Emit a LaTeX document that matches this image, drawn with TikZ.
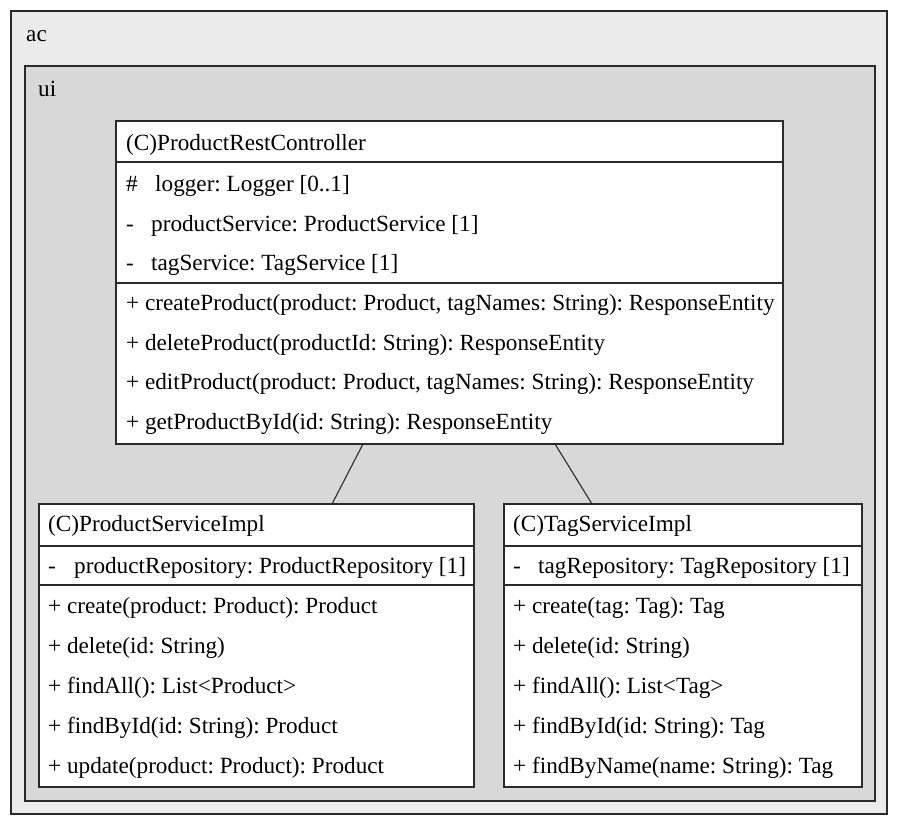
\documentclass[tikz,border=0pt]{standalone}
\usepackage{fontspec}
\setmainfont{Liberation Serif}
\usetikzlibrary{calc}
\definecolor{acfill}{HTML}{EBEBEB}
\definecolor{uifill}{HTML}{D8D8D8}
\definecolor{edge}{HTML}{2A2A2A}
\frenchspacing
\begin{document}
\begin{tikzpicture}[x=1pt,y=-1pt,
  pkg/.style={draw=edge,line width=1.3pt,inner sep=0pt,outer sep=0pt},
  cls/.style={draw=edge,fill=white,line width=1.3pt,inner sep=0pt,outer sep=0pt},
  divider/.style={draw=edge,line width=1.1pt},
  conn/.style={draw=edge,line width=1.1pt},
  txt/.style={anchor=base west,inner sep=0pt,font=\fontsize{23.2}{26}\selectfont}
]
\useasboundingbox (0,0) rectangle (899,825);
% packages
\draw[pkg,fill=acfill] (11,11) rectangle (887,814);
\node[txt] (acl) at (26,41) {ac};
\draw[pkg,fill=uifill] (25,66) rectangle (875,801);
\node[txt] (uil) at (38,96) {ui};
% ProductRestController
\node[cls,minimum width=667pt,minimum height=323pt,anchor=north west] (prc) at (116,121) {};
\draw[divider] (116,162) -- (783,162);
\draw[divider] (116,283) -- (783,283);
\node[txt] (prct) at (126,150) {(C)ProductRestController};
\node[txt] (prca1s) at (126,191) {\#};
\node[txt] (prca1) at (155,191) {logger: Logger [0..1]};
\node[txt] (prca2s) at (126,231) {-};
\node[txt] (prca2) at (151,231) {productService: ProductService [1]};
\node[txt] (prca3s) at (126,270) {-};
\node[txt] (prca3) at (151,270) {tagService: TagService [1]};
\node[txt] (prcm1) at (126,310) {+ createProduct(product: Product, tagNames: String): ResponseEntity};
\node[txt] (prcm2) at (126,350) {+ deleteProduct(productId: String): ResponseEntity};
\node[txt] (prcm3) at (126,389) {+ editProduct(product: Product, tagNames: String): ResponseEntity};
\node[txt] (prcm4) at (126,429) {+ getProductById(id: String): ResponseEntity};
% ProductServiceImpl
\node[cls,minimum width=435pt,minimum height=283pt,anchor=north west] (psi) at (39,504) {};
\draw[divider] (39,546) -- (474,546);
\draw[divider] (39,585) -- (474,585);
\node[txt] (psit) at (48,531) {(C)ProductServiceImpl};
\node[txt] (psia1s) at (48,573) {-};
\node[txt] (psia1) at (74,573) {productRepository: ProductRepository [1]};
\node[txt] (psim1) at (48,613) {+ create(product: Product): Product};
\node[txt] (psim2) at (48,653) {+ delete(id: String)};
\node[txt] (psim3) at (48,693) {+ findAll(): List<Product>};
\node[txt] (psim4) at (48,733) {+ findById(id: String): Product};
\node[txt] (psim5) at (48,773) {+ update(product: Product): Product};
% TagServiceImpl
\node[cls,minimum width=358pt,minimum height=283pt,anchor=north west] (tsi) at (504,504) {};
\draw[divider] (504,546) -- (862,546);
\draw[divider] (504,585) -- (862,585);
\node[txt] (tsit) at (513,531) {(C)TagServiceImpl};
\node[txt] (tsia1s) at (513,573) {-};
\node[txt] (tsia1) at (538,573) {tagRepository: TagRepository [1]};
\node[txt] (tsim1) at (513,613) {+ create(tag: Tag): Tag};
\node[txt] (tsim2) at (513,653) {+ delete(id: String)};
\node[txt] (tsim3) at (513,693) {+ findAll(): List<Tag>};
\node[txt] (tsim4) at (513,733) {+ findById(id: String): Tag};
\node[txt] (tsim5) at (513,773) {+ findByName(name: String): Tag};
% connectors
\draw[conn] ($(prc.south west)+(247,0)$) -- ($(psi.north west)+(293,0)$);
\draw[conn] ($(prc.south west)+(439,0)$) -- ($(tsi.north west)+(88,0)$);
\end{tikzpicture}
\end{document}
